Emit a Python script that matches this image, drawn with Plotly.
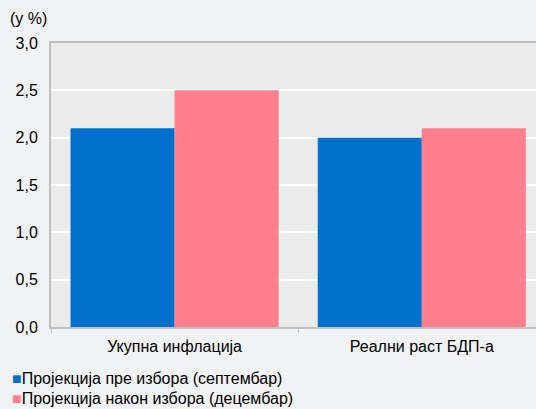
import plotly.graph_objects as go

categories = ["Укупна инфлација", "Реални раст БДП-а"]
series_names = ["Пројекција пре избора (септембар)", "Пројекција након избора (децембар)"]
before_values = [2.1, 2.0]
after_values = [2.5, 2.1]
series_colors = ["#0070CC", "#FF7F8C"]
y_ticks = [0, 0.5, 1.0, 1.5, 2.0, 2.5, 3.0]

FONT = "Liberation Sans, Arial, sans-serif"

W, H = 536, 409
L, T, B = 51, 43, 82
PW, PH = W - L, H - T - B

fig = go.Figure()
for name, vals, col in zip(series_names, [before_values, after_values], series_colors):
    fig.add_trace(go.Bar(x=categories, y=vals, name=name, marker_color=col,
                         marker_line_width=0, showlegend=False))

fig.update_layout(
    width=W, height=H,
    margin=dict(l=L, r=0, t=T, b=B, pad=0),
    paper_bgcolor="#F1F2F4", plot_bgcolor="#EBEBEB",
    barmode="group", bargap=0.158, bargroupgap=0,
    separators=",.",
    font=dict(family=FONT, size=16, color="#000000"),
    xaxis=dict(range=[-0.5, 1.462], showline=True, linecolor="#BFBFBF", linewidth=2,
               mirror=True, ticks="outside", tickson="boundaries", ticklen=4,
               tickcolor="#BFBFBF", tickwidth=1, showgrid=False, ticklabelstandoff=4,
               tickfont=dict(size=16, color="#000"), fixedrange=True),
    yaxis=dict(range=[0, 3.0], tickvals=y_ticks, tickformat=".1f", showline=True,
               linecolor="#BFBFBF", linewidth=2, gridcolor="#FFFFFF", gridwidth=2,
               zeroline=False, ticks="", ticklabelstandoff=8,
               tickfont=dict(size=16, color="#000"), fixedrange=True),
)


def px_to_paper(xp, yp):
    return (xp - L) / PW, (T + PH - yp) / PH


ax, ay = px_to_paper(8, 18)
fig.add_annotation(text="(у %)", xref="paper", yref="paper", x=ax, y=ay,
                   xanchor="left", yanchor="middle", showarrow=False,
                   font=dict(size=16, family=FONT, color="#000"))

for i, (name, col) in enumerate(zip(series_names, series_colors)):
    lx, ly = px_to_paper(10, 378 + i * 20)
    fig.add_annotation(text=f"<span style='color:{col}'>■</span>{name}", xref="paper", yref="paper",
                       x=lx, y=ly, xanchor="left", yanchor="middle",
                       showarrow=False, font=dict(size=16, family=FONT, color="#000"))

fig.write_html("out.html", config={"displayModeBar": False},
               post_script="document.body.style.margin='0';document.body.style.overflow='hidden';")
